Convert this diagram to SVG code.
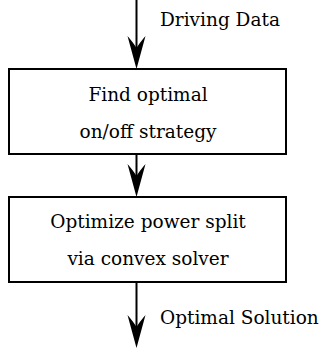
<svg xmlns="http://www.w3.org/2000/svg" width="328" height="351" viewBox="0 0 328 351">
<style>
.box{fill:#fff;stroke:#000;stroke-width:2}
.ln{stroke:#000;stroke-width:2;fill:none}
.ah{fill:#000;stroke:none}
.t{font-family:'DejaVu Serif','Liberation Serif',serif;font-size:18.5px;fill:#000}
.c{text-anchor:middle}
</style>
<defs>
<path id="head" d="M0,0 L-9,-33 Q-3,-26 0,-21 Q3,-26 9,-33 Z"/>
</defs>
<g id="connectors">
<line class="ln" x1="136.5" y1="0" x2="136.5" y2="50"/>
<use href="#head" class="ah" transform="translate(136.5,69)"/>
<text class="t" x="160" y="26">Driving Data</text>
<line class="ln" x1="136.5" y1="154" x2="136.5" y2="178"/>
<use href="#head" class="ah" transform="translate(136.5,197)"/>
<line class="ln" x1="136.5" y1="282" x2="136.5" y2="330"/>
<use href="#head" class="ah" transform="translate(136.5,348)"/>
<text class="t" x="160" y="324">Optimal Solution</text>
</g>
<g id="node1">
<rect class="box" x="9" y="69" width="277" height="85"/>
<text class="t c" x="148" y="101">Find optimal</text>
<text class="t c" x="148" y="138">on/off strategy</text>
</g>
<g id="node2">
<rect class="box" x="9" y="197" width="277" height="85"/>
<text class="t c" x="148" y="228">Optimize power split</text>
<text class="t c" x="148" y="265">via convex solver</text>
</g>
</svg>
